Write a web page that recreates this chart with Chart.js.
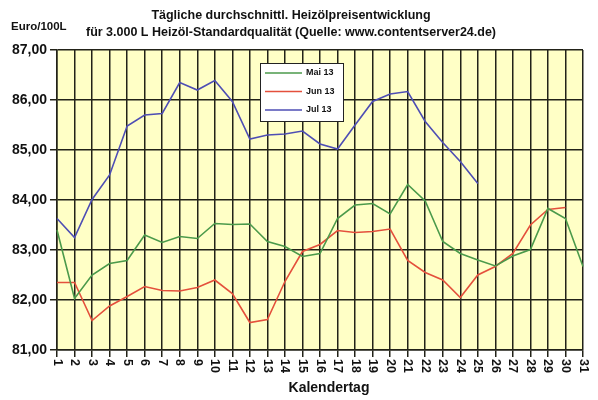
<!DOCTYPE html>
<html>
<head>
<meta charset="utf-8">
<script src="https://cdn.jsdelivr.net/npm/chart.js@4/dist/chart.umd.min.js"></script>
<style>
  html, body { margin: 0; padding: 0; background: #fff; }
</style>
</head>
<body>
<canvas id="my-canvas" width="598" height="400"></canvas>
<script>
const days = ['1','2','3','4','5','6','7','8','9','10','11','12','13','14','15','16',
  '17','18','19','20','21','22','23','24','25','26','27','28','29','30','31'];

const mai13 = [83.40, 82.03, 82.50, 82.73, 82.79, 83.30, 83.15, 83.27, 83.23, 83.53,
  83.51, 83.52, 83.17, 83.07, 82.87, 82.93, 83.63, 83.90, 83.93, 83.72,
  84.31, 83.98, 83.17, 82.93, 82.80, 82.68, 82.88, 83.01, 83.83, 83.63, 82.67];

const jun13 = [82.35, 82.35, 81.59, 81.88, 82.07, 82.27, 82.19, 82.18, 82.25, 82.40,
  82.13, 81.55, 81.61, 82.37, 82.97, 83.11, 83.39, 83.35, 83.37, 83.42,
  82.79, 82.55, 82.40, 82.05, 82.50, 82.67, 82.93, 83.50, 83.81, 83.85];

const jul13 = [83.63, 83.25, 84.01, 84.50, 85.48, 85.70, 85.73, 86.35, 86.20, 86.39,
  85.97, 85.22, 85.30, 85.32, 85.38, 85.12, 85.02, 85.50, 85.97, 86.12,
  86.17, 85.57, 85.15, 84.77, 84.33];

const titleLines = ['Tägliche durchschnittl. Heizölpreisentwicklung',
  'für 3.000 L Heizöl-Standardqualität (Quelle: www.contentserver24.de)'];
const yUnit = 'Euro/100L';
const xTitle = 'Kalendertag';

const FONT = '"Liberation Sans", Arial, sans-serif';
const gridColor = '#222218';

// yellow plot background, titles, rotated day labels, legend box
const decor = {
  id: 'decor',
  beforeDraw(chart) {
    const { ctx, chartArea: a } = chart;
    ctx.save();
    ctx.fillStyle = '#ffffc6';
    ctx.fillRect(a.left, a.top, a.right - a.left, a.bottom - a.top);
    ctx.restore();
  },
  afterDraw(chart) {
    const { ctx, chartArea: a } = chart;
    const xs = chart.scales.x;
    ctx.save();
    ctx.fillStyle = '#111';
    ctx.textAlign = 'center';
    ctx.textBaseline = 'middle';
    ctx.font = 'bold 12.5px ' + FONT;
    ctx.fillText(titleLines[0], 291, 16);
    ctx.fillText(titleLines[1], 291, 33);

    ctx.font = 'bold 11.5px ' + FONT;
    ctx.textAlign = 'left';
    ctx.fillText(yUnit, 11, 27);

    // day labels, reading top to bottom
    ctx.font = 'bold 12.5px ' + FONT;
    xs.ticks.forEach((t, i) => {
      const x = xs.getPixelForTick(i);
      ctx.save();
      ctx.translate(x, a.bottom + 9);
      ctx.rotate(Math.PI / 2);
      ctx.textAlign = 'left';
      ctx.textBaseline = 'middle';
      ctx.fillText(days[i], 0, 0);
      ctx.restore();
    });

    ctx.font = 'bold 14px ' + FONT;
    ctx.textAlign = 'center';
    ctx.fillText(xTitle, 329, 388);

    // legend
    const lx = 260, ly = 63, lw = 83, lh = 58;
    ctx.fillStyle = '#fff';
    ctx.fillRect(lx, ly, lw, lh);
    ctx.strokeStyle = '#222';
    ctx.lineWidth = 1;
    ctx.strokeRect(lx + 0.5, ly + 0.5, lw, lh);
    ctx.font = 'bold 9px ' + FONT;
    ctx.textAlign = 'left';
    chart.data.datasets.forEach((ds, i) => {
      const y = ly + 10 + i * 18.5;
      ctx.strokeStyle = ds.borderColor;
      ctx.lineWidth = 1.5;
      ctx.beginPath();
      ctx.moveTo(lx + 5, y);
      ctx.lineTo(lx + 42, y);
      ctx.stroke();
      ctx.fillStyle = '#111';
      ctx.fillText(ds.label, lx + 46, y);
    });
    ctx.restore();
  }
};

const ctx = document.getElementById('my-canvas').getContext('2d');
const chart = new Chart(ctx, {
  type: 'line',
  data: {
    labels: days,
    datasets: [
      { label: 'Mai 13', data: mai13, borderColor: '#4b9a4b' },
      { label: 'Jun 13', data: jun13, borderColor: '#e4503c' },
      { label: 'Jul 13', data: jul13, borderColor: '#4e4eb4' }
    ]
  },
  options: {
    responsive: false,
    animation: false,
    devicePixelRatio: 1,
    layout: { padding: { top: 50, right: 15, left: 0, bottom: 0 } },
    elements: {
      line: { borderWidth: 1.6, tension: 0 },
      point: { radius: 0 }
    },
    plugins: {
      legend: { display: false },
      title: { display: false },
      tooltip: { enabled: false }
    },
    scales: {
      x: {
        offset: false,
        grid: { color: gridColor, lineWidth: 1.5, tickLength: 7 },
        border: { color: gridColor, width: 1.5 },
        ticks: { display: false },
        afterFit(scale) { scale.height = 50; }
      },
      y: {
        min: 81,
        max: 87,
        grid: { color: gridColor, lineWidth: 1.5, tickLength: 7 },
        border: { color: gridColor, width: 1.5 },
        ticks: {
          stepSize: 1,
          padding: 3,
          color: '#111',
          font: { family: FONT, size: 14, weight: 'bold' },
          callback: v => v.toFixed(2).replace('.', ',')
        },
        afterFit(scale) { scale.width = 57; }
      }
    }
  },
  plugins: [decor]
});
</script>
</body>
</html>
